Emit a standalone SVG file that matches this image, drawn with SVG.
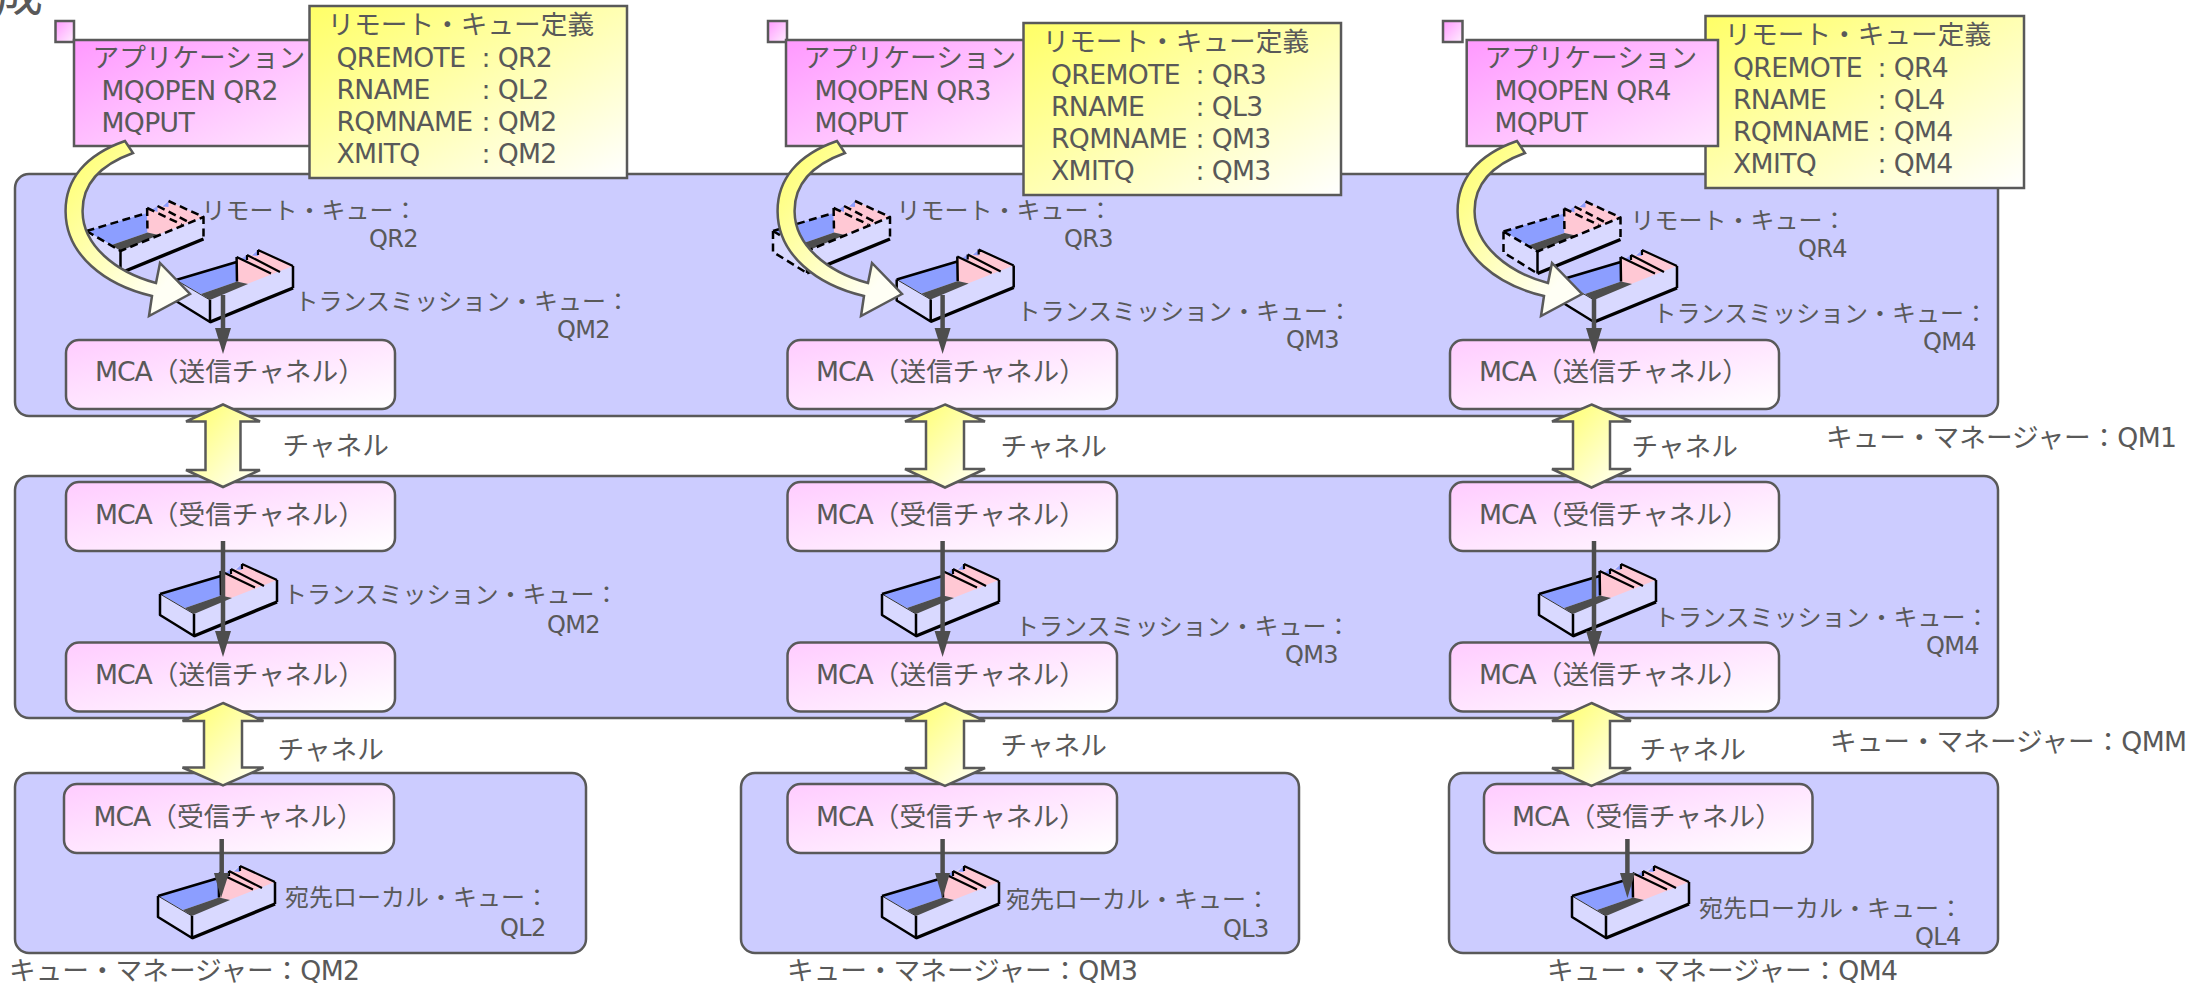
<svg xmlns="http://www.w3.org/2000/svg" width="2205" height="985" viewBox="0 0 2205 985">
<style>
text{font-family:"DejaVu Sans","Noto Sans CJK JP",sans-serif;fill:#595959;font-size:26.67px}
.lb{font-size:24px}
.l{letter-spacing:-.65px}
.m{letter-spacing:-1px}
.panel{fill:#ccccff;stroke:#595959;stroke-width:2.5}
.mca{fill:url(#gM);stroke:#595959;stroke-width:2.5}
.app{fill:url(#gA);stroke:#595959;stroke-width:2.5}
.def{fill:url(#gD);stroke:#595959;stroke-width:2.5}
.sq{fill:url(#gS);stroke:#595959;stroke-width:2.5}
.ya{fill:url(#gD);stroke:#595959;stroke-width:2.5}
.cv{fill:url(#gC);stroke:#595959;stroke-width:2.5}
.gl{stroke:#4d4d4d;stroke-width:4.5;fill:none}
.gh{fill:#4d4d4d}
.k{stroke:#000;fill:none;stroke-width:2.5;stroke-linejoin:round}
.t{stroke:#000;fill:none;stroke-width:2.2}
.f{stroke:#000;fill:none;stroke-width:3.5}
.h{stroke:#333;fill:none;stroke-width:1}
.d{stroke-dasharray:8 4.500}
</style>
<defs>
<linearGradient id="gA" x1="0" y1="0" x2="1" y2="1"><stop offset="0" stop-color="#ff99ff"/><stop offset="1" stop-color="#ffe6ff"/></linearGradient>
<linearGradient id="gM" x1="0" y1="0" x2="1" y2="1"><stop offset="0" stop-color="#ffccff"/><stop offset="1" stop-color="#ffffff"/></linearGradient>
<linearGradient id="gD" x1="0" y1="0" x2="1" y2="1"><stop offset="0" stop-color="#ffff66"/><stop offset="1" stop-color="#ffffff"/></linearGradient>
<linearGradient id="gS" x1="0" y1="0" x2="1" y2="1"><stop offset="0" stop-color="#ff99ff"/><stop offset="1" stop-color="#ffeeff"/></linearGradient>
<linearGradient id="gC" x1="0" y1="0" x2="0.8" y2="0.9"><stop offset="0" stop-color="#ffff66"/><stop offset="0.95" stop-color="#fffff5"/></linearGradient>
<g id="qbase">
<path d="M0,0L60.600,-18L82,-30L117,-14V8L34,42L0,21Z" fill="#d9d9ff"/>
<path d="M0,0L60.600,-18L61,1.400L25,14Z" fill="#8c9eff"/>
<path d="M60.600,-23L65,-21L71,-25L76,-24.500L82,-30L117,-14L71,4L61,1.400Z" fill="#ffc8d4"/>
<path d="M65,-21L71,-25L71,-19ZM76,-24.500L82,-30L82,-24Z" fill="#8c9eff"/>
<path d="M25,14L34,20L72,4L61,1.400Z" fill="#4d4d4d"/>
</g>
<g id="q"><use href="#qbase"/>
<path class="h" d="M0,0L34,20"/>
<path class="t" d="M60.600,-23L95,-6.600M71,-25L104,-8M82,-30L117,-14M71,-25V-20M82,-30V-25"/>
<path class="k" d="M0,0L60.600,-18M60.600,-23L61,1.400M117,-14V8M0,0V21L34,42V20"/>
<path class="f" d="M34,42L117,8"/>
</g>
<g id="qd"><use href="#qbase"/>
<path class="k d" d="M0,0L60.600,-18M60.600,-23L61,1.400M60.600,-23L95,-6.600M71,-25L104,-8M82,-30L117,-14V8M0,0L34,20L117,-14M0,0V21L34,42"/>
<path class="k" d="M34,42V20"/>
<path class="f" d="M34,42L117,8"/>
</g>
<path id="cv" class="cv" d="M125,141C85,155 65,180 65.600,212C66,255 105,285 152,296L149,316L190,294L160,263L156,283C115,272 83,245 82.600,212C82,185 100,165 133,153Z"/>
</defs>

<g id="panel-qm1"><rect class="panel" x="15" y="174" width="1983" height="242" rx="14"/></g>
<g id="panel-qmm"><rect class="panel" x="15" y="476" width="1983" height="242" rx="14"/></g>
<g id="panel-qm2"><rect class="panel" x="15" y="773" width="571" height="180" rx="14"/></g>
<g id="panel-qm3"><rect class="panel" x="741" y="773" width="558" height="180" rx="14"/></g>
<g id="panel-qm4"><rect class="panel" x="1449" y="773" width="549" height="180" rx="14"/></g>

<g id="title-fragment"><text x="-5" y="11" style="font-size:48px">成</text></g>

<g id="app-2"><rect class="sq" x="55.500" y="21" width="18.500" height="21"/><rect class="app" x="74" y="40" width="240" height="106"/><text x="92.500" y="67">アプリケーション</text><text class="l" x="101.500" y="100">MQOPEN QR2</text><text class="l" x="101.500" y="132">MQPUT</text></g>
<g id="def-2"><rect class="def" x="309.500" y="6" width="317.500" height="172"/><text x="327.500" y="34">リモート・キュー定義</text><text class="l" y="66.700"><tspan x="336.500">QREMOTE</tspan><tspan x="481.500">: QR2</tspan></text><text class="l" y="98.700"><tspan x="336.500">RNAME</tspan><tspan x="481.500">: QL2</tspan></text><text class="l" y="130.700"><tspan x="336.500">RQMNAME</tspan><tspan x="481.500">: QM2</tspan></text><text class="l" y="162.700"><tspan x="336.500">XMITQ</tspan><tspan x="481.500">: QM2</tspan></text></g>

<g id="app-3"><rect class="sq" x="768" y="21" width="19" height="21"/><rect class="app" x="786" y="40" width="240" height="106"/><text x="803.500" y="67">アプリケーション</text><text class="l" x="814.500" y="100">MQOPEN QR3</text><text class="l" x="814.500" y="132">MQPUT</text></g>
<g id="def-3"><rect class="def" x="1023.500" y="23" width="317.500" height="172"/><text x="1042.500" y="51">リモート・キュー定義</text><text class="l" y="83.700"><tspan x="1051">QREMOTE</tspan><tspan x="1195.500">: QR3</tspan></text><text class="l" y="115.700"><tspan x="1051">RNAME</tspan><tspan x="1195.500">: QL3</tspan></text><text class="l" y="147.700"><tspan x="1051">RQMNAME</tspan><tspan x="1195.500">: QM3</tspan></text><text class="l" y="179.700"><tspan x="1051">XMITQ</tspan><tspan x="1195.500">: QM3</tspan></text></g>

<g id="def-4"><rect class="def" x="1705.500" y="16" width="318.500" height="172"/><text x="1724.500" y="44">リモート・キュー定義</text><text class="l" y="76.700"><tspan x="1733">QREMOTE</tspan><tspan x="1877.500">: QR4</tspan></text><text class="l" y="108.700"><tspan x="1733">RNAME</tspan><tspan x="1877.500">: QL4</tspan></text><text class="l" y="140.700"><tspan x="1733">RQMNAME</tspan><tspan x="1877.500">: QM4</tspan></text><text class="l" y="172.700"><tspan x="1733">XMITQ</tspan><tspan x="1877.500">: QM4</tspan></text></g>
<g id="app-4"><rect class="sq" x="1443" y="21" width="19.500" height="21"/><rect class="app" x="1466.700" y="40" width="251.300" height="106"/><text x="1484.500" y="67">アプリケーション</text><text class="l" x="1494.500" y="100">MQOPEN QR4</text><text class="l" x="1494.500" y="132">MQPUT</text></g>

<g id="remote-q2"><use href="#qd" x="86.500" y="231"/><text class="lb" x="201.500" y="219">リモート・キュー：</text><text class="lb l" x="369" y="247">QR2</text></g>
<g id="remote-q3"><use href="#qd" x="773" y="231"/><text class="lb" x="896.500" y="219">リモート・キュー：</text><text class="lb l" x="1064" y="247">QR3</text></g>
<g id="remote-q4"><use href="#qd" x="1503.500" y="231.500"/><text class="lb" x="1630.500" y="229">リモート・キュー：</text><text class="lb l" x="1798" y="257">QR4</text></g>

<g id="xmit-qm1-2"><use href="#q" x="176" y="280"/><text class="lb" x="294.500" y="310">トランスミッション・キュー：</text><text class="lb l" x="557" y="338">QM2</text></g>
<g id="xmit-qm1-3"><use href="#q" x="896.700" y="279.500"/><text class="lb" x="1016.500" y="320">トランスミッション・キュー：</text><text class="lb l" x="1286" y="348">QM3</text></g>
<g id="xmit-qm1-4"><use href="#q" x="1560" y="280"/><text class="lb" x="1652.500" y="322">トランスミッション・キュー：</text><text class="lb l" x="1923" y="350">QM4</text></g>

<g id="mca-s1"><rect class="mca" x="66" y="340" width="329" height="69" rx="13"/><text x="95" y="381"><tspan class="m">MCA</tspan>（送信チャネル）</text></g>
<g id="mca-s2"><rect class="mca" x="787.500" y="340" width="329.500" height="69" rx="13"/><text x="816" y="381"><tspan class="m">MCA</tspan>（送信チャネル）</text></g>
<g id="mca-s3"><rect class="mca" x="1450" y="340" width="329" height="69" rx="13"/><text x="1479" y="381"><tspan class="m">MCA</tspan>（送信チャネル）</text></g>

<g id="mca-r1"><rect class="mca" x="66" y="482" width="329" height="69" rx="13"/><text x="95" y="523.500"><tspan class="m">MCA</tspan>（受信チャネル）</text></g>
<g id="mca-r2"><rect class="mca" x="787.500" y="482" width="329.500" height="69" rx="13"/><text x="816" y="523.500"><tspan class="m">MCA</tspan>（受信チャネル）</text></g>
<g id="mca-r3"><rect class="mca" x="1450" y="482" width="329" height="69" rx="13"/><text x="1479" y="523.500"><tspan class="m">MCA</tspan>（受信チャネル）</text></g>

<g id="xmit-qmm-2"><use href="#q" x="160" y="594"/><text class="lb" x="283" y="603">トランスミッション・キュー：</text><text class="lb l" x="547" y="633">QM2</text></g>
<g id="xmit-qmm-3"><use href="#q" x="882" y="594"/><text class="lb" x="1015" y="635">トランスミッション・キュー：</text><text class="lb l" x="1285" y="663">QM3</text></g>
<g id="xmit-qmm-4"><use href="#q" x="1539" y="594"/><text class="lb" x="1654" y="626">トランスミッション・キュー：</text><text class="lb l" x="1926" y="654">QM4</text></g>

<g id="mca-ms1"><rect class="mca" x="66" y="642.500" width="329" height="69" rx="13"/><text x="95" y="684"><tspan class="m">MCA</tspan>（送信チャネル）</text></g>
<g id="mca-ms2"><rect class="mca" x="787.500" y="642.500" width="329.500" height="69" rx="13"/><text x="816" y="684"><tspan class="m">MCA</tspan>（送信チャネル）</text></g>
<g id="mca-ms3"><rect class="mca" x="1450" y="642.500" width="329" height="69" rx="13"/><text x="1479" y="684"><tspan class="m">MCA</tspan>（送信チャネル）</text></g>

<g id="mca-b1"><rect class="mca" x="64" y="784" width="330" height="69" rx="13"/><text x="93.500" y="825.500"><tspan class="m">MCA</tspan>（受信チャネル）</text></g>
<g id="mca-b2"><rect class="mca" x="787.500" y="784" width="329.500" height="69" rx="13"/><text x="816" y="825.500"><tspan class="m">MCA</tspan>（受信チャネル）</text></g>
<g id="mca-b3"><rect class="mca" x="1484" y="784" width="328.500" height="69" rx="13"/><text x="1512" y="825.500"><tspan class="m">MCA</tspan>（受信チャネル）</text></g>

<g id="local-q2"><use href="#q" x="158" y="896"/><text class="lb" x="285" y="906">宛先ローカル・キュー：</text><text class="lb l" x="500" y="935.500">QL2</text></g>
<g id="local-q3"><use href="#q" x="882" y="896"/><text class="lb" x="1006" y="908">宛先ローカル・キュー：</text><text class="lb l" x="1223" y="937">QL3</text></g>
<g id="local-q4"><use href="#q" x="1572" y="896"/><text class="lb" x="1699" y="916.500">宛先ローカル・キュー：</text><text class="lb l" x="1915" y="945">QL4</text></g>

<g id="label-qm1"><text x="1826" y="447">キュー・マネージャー：<tspan class="l">QM1</tspan></text></g>
<g id="label-qmm"><text x="1830" y="751">キュー・マネージャー：<tspan class="l">QMM</tspan></text></g>
<g id="label-qm2"><text x="9" y="980">キュー・マネージャー：<tspan class="l">QM2</tspan></text></g>
<g id="label-qm3"><text x="787" y="980">キュー・マネージャー：<tspan class="l">QM3</tspan></text></g>
<g id="label-qm4"><text x="1547" y="980">キュー・マネージャー：<tspan class="l">QM4</tspan></text></g>

<g id="connectors">
<use href="#cv"/>
<use href="#cv" x="712"/>
<use href="#cv" x="1392"/>

<path class="gl" d="M223,295V330"/><path class="gh" d="M215,328H231L223,354Z"/>
<path class="gl" d="M942.600,295V330"/><path class="gh" d="M934.600,328H950.600L942.600,354Z"/>
<path class="gl" d="M1594,297V330"/><path class="gh" d="M1586,328H1602L1594,354Z"/>

<path class="gl" d="M223,541V633"/><path class="gh" d="M215,631H231L223,657Z"/>
<path class="gl" d="M942.600,541V633"/><path class="gh" d="M934.600,631H950.600L942.600,657Z"/>
<path class="gl" d="M1594,541V633"/><path class="gh" d="M1586,631H1602L1594,657Z"/>

<path class="gl" d="M221.700,839V875"/><path class="gh" d="M214,873H229L221,898Z"/>
<path class="gl" d="M942.600,839V875"/><path class="gh" d="M935,873H950L942.600,898Z"/>
<path class="gl" d="M1627.400,839V875"/><path class="gh" d="M1620,873H1635L1627.400,898Z"/>

<path class="ya" d="M223,404.500L260,421.500H240.500V470H260L223,487L186,470H205.500V421.500H186Z"/>
<path class="ya" d="M945,404.500L985,421.500H964V469H985L945,487.500L905,469H926V421.500H905Z"/>
<path class="ya" d="M1591.500,404.500L1631,421.500H1610V469H1631L1591.500,487.500L1552,469H1573V421.500H1552Z"/>

<path class="ya" d="M223,703L263.500,721H242V767.500H263.500L223,785.500L182.500,767.500H204V721H182.500Z"/>
<path class="ya" d="M945,703L985,721H964V768H985L945,786L905,768H926V721H905Z"/>
<path class="ya" d="M1591.500,703L1631,721H1610V768H1631L1591.500,786L1552,768H1573V721H1552Z"/>
</g>

<g id="channel-labels">
<text x="282.500" y="455">チャネル</text>
<text x="1000.500" y="456">チャネル</text>
<text x="1631.500" y="456">チャネル</text>
<text x="277.500" y="759">チャネル</text>
<text x="1000.500" y="755">チャネル</text>
<text x="1639.500" y="759">チャネル</text>
</g>
</svg>
